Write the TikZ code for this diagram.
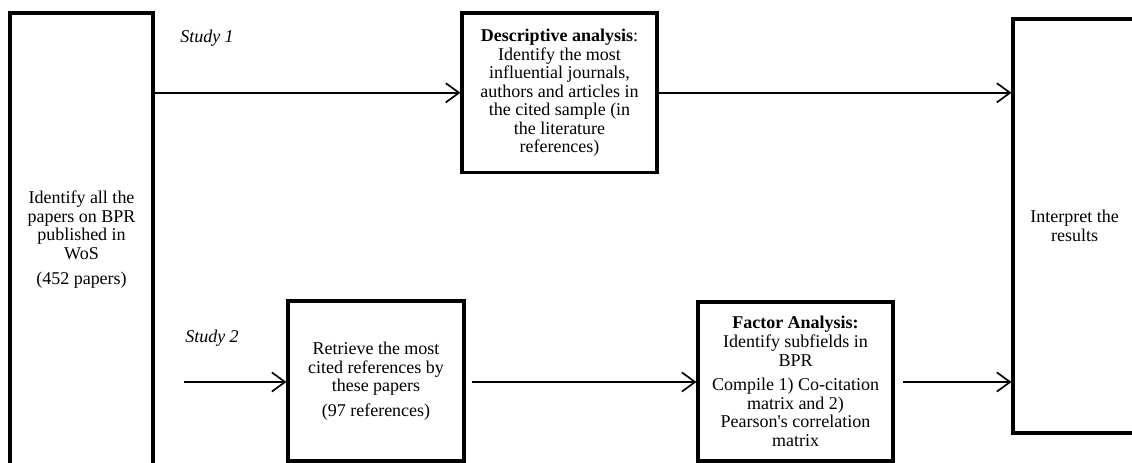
\documentclass[tikz,border=0pt]{standalone}
\usepackage{fontspec}
\setmainfont{Liberation Serif}
\usetikzlibrary{arrows.meta,positioning,calc}

\begin{document}
\begin{tikzpicture}[
    box/.style={rectangle, draw, line width=2.2pt, align=center, inner sep=2pt, font=\fontsize{12.8}{13.2}\selectfont},
    flow/.style={-{Straight Barb[length=0.33cm, width=0.48cm, line width=1.2pt]}, line width=1.2pt},
    studylabel/.style={font=\fontsize{12.8}{13.2}\selectfont\itshape}
]
    \clip (0,0) rectangle (28.3,11.55);

    % ---- Source and outcome ----
    \node[box, minimum width=3.575cm, minimum height=11.325cm] (src) at (2.0375, 5.5625) {Identify all the\\ papers on BPR\\ published in\\ WoS\\[0.15cm] (452 papers)};
    \node[box, minimum width=3.075cm, minimum height=10.35cm] (interp) at (26.8625, 5.9) {Interpret the\\ results};

    % ---- Study 1 ----
    \node[studylabel] (st1) at (5.175, 10.6) {Study 1};
    \node[box, minimum width=4.875cm, minimum height=3.99cm] (desc) at (13.9875, 9.23) {\textbf{Descriptive analysis}:\\ Identify the most\\ influential journals,\\ authors and articles in\\ the cited sample (in\\ the literature\\ references)};
    \draw[flow] (src.east |- desc.west) -- (desc.west);
    \draw[flow] (desc.east) -- (desc.east -| interp.west);

    % ---- Study 2 ----
    \node[studylabel] (st2) at (5.3, 3.1) {Study 2};
    \node[box, minimum width=4.4cm, minimum height=4.0cm] (retr) at (9.4, 2.025) {Retrieve the most\\ cited references by\\ these papers\\[0.15cm] (97 references)};
    \node[box, minimum width=4.875cm, minimum height=3.975cm] (fact) at (19.8875, 2.0125) {\textbf{Factor Analysis:}\\ Identify subfields in\\ BPR\\[0.15cm] Compile 1) Co-citation\\ matrix and 2)\\ Pearson\textquotesingle s correlation\\ matrix};
    \coordinate (s2) at (4.6, 2.0);
    \draw[flow] (s2) -- (s2 -| retr.west);
    \draw[flow, shorten <=0.15cm] (retr.east |- s2) -- (s2 -| fact.west);
    \draw[flow, shorten <=0.2cm] (fact.east |- s2) -- (s2 -| interp.west);
\end{tikzpicture}
\end{document}
